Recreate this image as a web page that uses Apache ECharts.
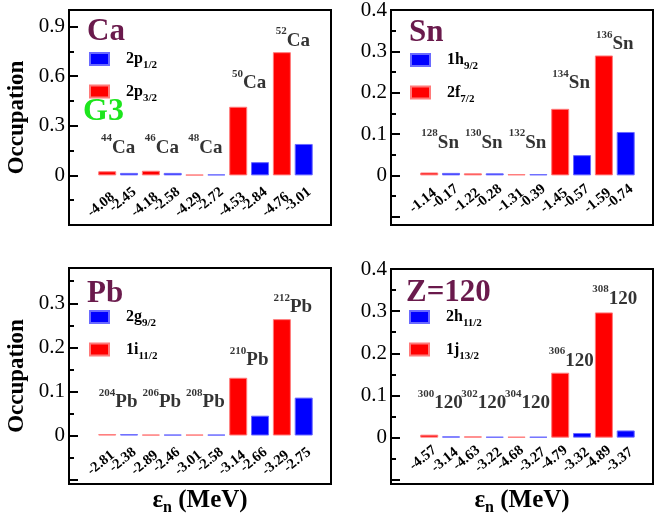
<!DOCTYPE html>
<html><head><meta charset="utf-8">
<script src="https://cdn.jsdelivr.net/npm/echarts@6/dist/echarts.min.js"></script>
<style>html,body{margin:0;padding:0;background:#fff}#c{width:654px;height:521px}</style>
</head><body><div id="c"></div>
<script>
// ---------------- data ----------------
const caRed = [0.025, 0.028, 0.004, 0.415, 0.745];     // 2p3/2
const caBlue = [0.015, 0.015, 0.006, 0.080, 0.190];    // 2p1/2
const caRedE = ['-4.08', '-4.18', '-4.29', '-4.53', '-4.76'];
const caBlueE = ['-2.45', '-2.58', '-2.72', '-2.84', '-3.01'];
const caMass = ['44', '46', '48', '50', '52'];
const caLabelY = [0.166, 0.166, 0.166, 0.556, 0.814];
const caYTicks = ['0', '0.3', '0.6', '0.9'];
const caOrbBlue = ['2p', '1/2'];
const caOrbRed = ['2p', '3/2'];
const snRed = [0.007, 0.005, 0.003, 0.161, 0.290];     // 2f7/2
const snBlue = [0.006, 0.005, 0.003, 0.049, 0.105];    // 1h9/2
const snRedE = ['-1.14', '-1.22', '-1.31', '-1.45', '-1.59'];
const snBlueE = ['-0.17', '-0.28', '-0.39', '-0.57', '-0.74'];
const snMass = ['128', '130', '132', '134', '136'];
const snLabelY = [0.079, 0.079, 0.079, 0.223, 0.317];
const snYTicks = ['0', '0.1', '0.2', '0.3', '0.4'];
const snOrbBlue = ['1h', '9/2'];
const snOrbRed = ['2f', '7/2'];
const pbRed = [0.003, 0.002, 0.002, 0.131, 0.264];     // 1i11/2
const pbBlue = [0.003, 0.002, 0.002, 0.045, 0.086];    // 2g9/2
const pbRedE = ['-2.81', '-2.89', '-3.01', '-3.14', '-3.29'];
const pbBlueE = ['-2.38', '-2.46', '-2.58', '-2.66', '-2.75'];
const pbMass = ['204', '206', '208', '210', '212'];
const pbLabelY = [0.075, 0.075, 0.075, 0.170, 0.291];
const pbYTicks = ['0', '0.1', '0.2', '0.3'];
const pbOrbBlue = ['2g', '9/2'];
const pbOrbRed = ['1i', '11/2'];
const zRed = [0.007, 0.003, 0.002, 0.154, 0.297];      // 1j13/2
const zBlue = [0.003, 0.002, 0.002, 0.011, 0.017];     // 2h11/2
const zRedE = ['-4.57', '-4.63', '-4.68', '-4.79', '-4.89'];
const zBlueE = ['-3.14', '-3.22', '-3.27', '-3.32', '-3.37'];
const zMass = ['300', '302', '304', '306', '308'];
const zLabelY = [0.081, 0.081, 0.081, 0.182, 0.329];
const zYTicks = ['0', '0.1', '0.2', '0.3', '0.4'];
const zOrbBlue = ['2h', '11/2'];
const zOrbRed = ['1j', '13/2'];

// ---------------- styling / layout ----------------
const FONT = "'Liberation Serif','Times New Roman',Times,serif";
const PURPLE = '#6a1a4c', GREEN = '#1de51d', RED = '#ff0000', BLUE = '#0000ff';

const panels = [
  { el: 'Ca', red: caRed, blue: caBlue, redE: caRedE, blueE: caBlueE, mass: caMass, labY: caLabelY,
    ticks: caYTicks, orbRed: caOrbRed, orbBlue: caOrbBlue, yMin: -0.3, yMax: 1.0,
    grid: { left: 69, top: 10, width: 262, height: 215 }, title: { left: 87, top: 16 },
    legend: { left: 89, top: 51 }, yName: true, xName: false, mRed: 20, mBlue: 15 },
  { el: 'Sn', red: snRed, blue: snBlue, redE: snRedE, blueE: snBlueE, mass: snMass, labY: snLabelY,
    ticks: snYTicks, orbRed: snOrbRed, orbBlue: snOrbBlue, yMin: -0.12, yMax: 0.4,
    grid: { left: 391, top: 10, width: 262, height: 215 }, title: { left: 409, top: 17 },
    legend: { left: 410, top: 52 }, yName: false, xName: false, mRed: 16, mBlue: 12 },
  { el: 'Pb', red: pbRed, blue: pbBlue, redE: pbRedE, blueE: pbBlueE, mass: pbMass, labY: pbLabelY,
    ticks: pbYTicks, orbRed: pbOrbRed, orbBlue: pbOrbBlue, yMin: -0.11, yMax: 0.38,
    grid: { left: 69, top: 268, width: 262, height: 216 }, title: { left: 87, top: 278 },
    legend: { left: 89, top: 309 }, yName: true, xName: true, mRed: 18, mBlue: 15 },
  { el: '120', name: 'Z=120', red: zRed, blue: zBlue, redE: zRedE, blueE: zBlueE, mass: zMass, labY: zLabelY,
    ticks: zYTicks, orbRed: zOrbRed, orbBlue: zOrbBlue, yMin: -0.11, yMax: 0.4,
    grid: { left: 391, top: 269, width: 262, height: 215 }, title: { left: 406, top: 277 },
    legend: { left: 409, top: 309 }, yName: false, xName: true, mRed: 11, mBlue: 13 }
];

const orbMap = {};
const r6 = v => Math.round(v * 1e6) / 1e6;
const barPos = k => k + 1.75;          // bar slot k (0..9) on an x range 0..12
const LABEL_NUDGE = 0.25;              // label anchor (text end) sits a little right of the bar centre

const option = {
  animation: false, backgroundColor: '#fff',
  title: [], legend: [], grid: [], xAxis: [], yAxis: [], series: []
};

panels.forEach((P, p) => {
  option.grid.push(Object.assign({ show: true, borderColor: '#000', borderWidth: 2, outerBoundsMode: 'none', containLabel: false }, P.grid));

  const tickVals = P.ticks.map(Number);
  const step = tickVals[1] - tickVals[0];
  const majors = [r6(tickVals[0] - step)].concat(tickVals).filter(v => v >= P.yMin - 1e-9);
  const minors = [];
  for (let v = tickVals[0] - 1.5 * step; v <= P.yMax + 1e-9; v += step) if (v >= P.yMin - 1e-9) minors.push(r6(v));

  const redPos = P.red.map((_, k) => barPos(2 * k));
  const bluePos = P.blue.map((_, k) => barPos(2 * k + 1));

  // place the (invisible) x axes on the y = 0 line of the value scale
  const zeroOffset = -P.grid.height * (0 - P.yMin) / (P.yMax - P.yMin);
  const xBase = { type: 'value', gridIndex: p, min: 0, max: 12, position: 'bottom', offset: zeroOffset,
    axisLine: { show: false, onZero: false }, axisTick: { show: false }, splitLine: { show: false } };
  const xLab = (pos, texts, margin) => ({
    show: true, customValues: pos.map(v => r6(v + LABEL_NUDGE)),
    formatter: (v) => { const k = pos.findIndex(q => Math.abs(q + LABEL_NUDGE - v) < 0.01); return k >= 0 ? texts[k] : ''; },
    rotate: 39, margin: margin,
    fontFamily: FONT, fontWeight: 'bold', fontSize: 14.5, color: '#000'
  });
  const xA = Object.assign({}, xBase, { axisLabel: xLab(redPos, P.redE, P.mRed) });
  const xB = Object.assign({}, xBase, { axisLabel: xLab(bluePos, P.blueE, P.mBlue) });
  option.xAxis.push(xA, xB);

  const yBase = { type: 'value', gridIndex: p, min: P.yMin, max: P.yMax, position: 'left', splitLine: { show: false } };
  const yA = Object.assign({}, yBase, {
    axisLine: { show: true, onZero: false, lineStyle: { color: '#000', width: 2 } },
    axisTick: { show: true, inside: true, length: 9, customValues: majors, lineStyle: { color: '#000', width: 2 } },
    axisLabel: { show: true, customValues: tickVals, formatter: v => String(r6(v)), margin: 4,
      fontFamily: FONT, fontSize: 21, color: '#000' }
  });
  if (P.yName) {
    Object.assign(yA, { name: 'Occupation', nameLocation: 'middle', nameGap: 40,
      nameTextStyle: { fontFamily: FONT, fontWeight: 'bold', fontSize: 23, color: '#000' } });
  }
  const yB = Object.assign({}, yBase, {
    axisLine: { show: false, onZero: false },
    axisTick: { show: true, inside: true, length: 5, customValues: minors, lineStyle: { color: '#000', width: 2 } },
    axisLabel: { show: false }
  });
  option.yAxis.push(yA, yB);

  const nameRed = P.orbRed.join(''), nameBlue = P.orbBlue.join('');
  orbMap[nameRed] = P.orbRed; orbMap[nameBlue] = P.orbBlue;

  option.series.push({
    type: 'bar', name: nameBlue, xAxisIndex: 2 * p, yAxisIndex: 2 * p,
    data: P.blue.map((v, k) => [bluePos[k], v]), barWidth: 18, barGap: '-100%',
    itemStyle: { color: BLUE, borderColor: '#6a6aff', borderWidth: 1 }, silent: true
  }, {
    type: 'bar', name: nameRed, xAxisIndex: 2 * p, yAxisIndex: 2 * p,
    data: P.red.map((v, k) => [redPos[k], v]), barWidth: 18, barGap: '-100%',
    itemStyle: { color: RED, borderColor: '#ff7a7a', borderWidth: 1 }, silent: true
  }, {
    type: 'scatter', xAxisIndex: 2 * p, yAxisIndex: 2 * p, symbolSize: 0, silent: true, z: 5,
    data: P.mass.map((m, k) => [(redPos[k] + bluePos[k]) / 2, P.labY[k]]),
    label: { show: true, position: 'inside', color: '#000',
      formatter: prm => '{s|' + P.mass[prm.dataIndex] + '}{m|' + P.el + '}',
      rich: {
        s: { fontFamily: FONT, fontWeight: 'bold', fontSize: 11, lineHeight: 12, verticalAlign: 'top', color: '#000' },
        m: { fontFamily: FONT, fontWeight: 'bold', fontSize: 19, lineHeight: 30, color: '#000' }
      } }
  });

  option.legend.push({
    orient: 'vertical', left: P.legend.left, top: P.legend.top, padding: 0,
    itemWidth: 19, itemHeight: 12, itemGap: 12.5, icon: 'rect', selectedMode: false,
    data: [nameBlue, nameRed],
    formatter: n => '{m|' + orbMap[n][0] + '}{b|' + orbMap[n][1] + '}',
    textStyle: { rich: {
      m: { fontFamily: FONT, fontWeight: 'bold', fontSize: 16, lineHeight: 24, padding: [0, 0, 0, 12], color: '#000' },
      b: { fontFamily: FONT, fontWeight: 'bold', fontSize: 11, lineHeight: 12, verticalAlign: 'bottom', color: '#000' }
    } }
  });

  option.title.push({ text: P.name || P.el, left: P.title.left, top: P.title.top, padding: 0,
    textStyle: { fontFamily: FONT, fontWeight: 'bold', fontSize: 31, color: PURPLE } });

  if (P.xName) {
    option.title.push({ text: '{m|ε}{s|n}{m| (MeV)}', left: P.grid.left + P.grid.width / 2, textAlign: 'center',
      top: 486, padding: 0,
      textStyle: { rich: {
        m: { fontFamily: FONT, fontWeight: 'bold', fontSize: 25, lineHeight: 30, color: '#000' },
        s: { fontFamily: FONT, fontWeight: 'bold', fontSize: 16, lineHeight: 10, verticalAlign: 'bottom', color: '#000' }
      } } });
  }
});

option.title.push({ text: 'G3', left: 83, top: 96, padding: 0,
  textStyle: { fontFamily: FONT, fontWeight: 'bold', fontSize: 32, color: GREEN } });

const chart = echarts.init(document.getElementById('c'), null, { renderer: 'canvas' });
chart.setOption(option);
</script>
</body></html>
